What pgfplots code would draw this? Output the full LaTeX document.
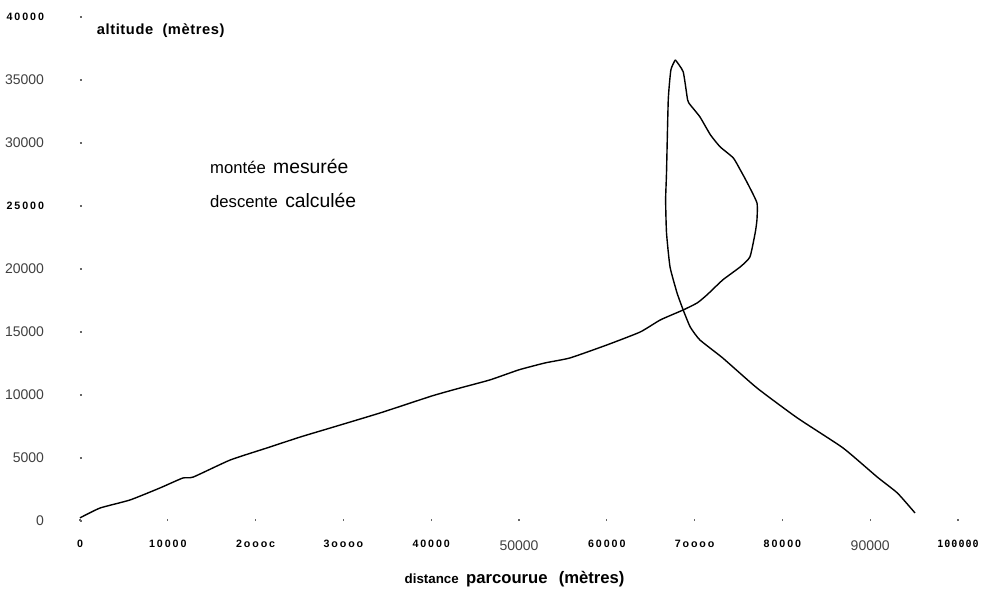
\documentclass[border=0pt]{standalone}
\usepackage{fontspec}
\setmainfont{Liberation Sans}
\newfontfamily\monob{DejaVu Sans Mono}
\usepackage{pgfplots}
\pgfplotsset{compat=1.18}
\newcommand\spb[1]{{\fontsize{8}{9}\selectfont\bfseries\addfontfeature{LetterSpace=18}#1}}
\newcommand\nrm[1]{{\fontsize{10.5}{12}\selectfont\color{black!75}#1}}
\begin{document}
\begin{tikzpicture}
\begin{axis}[
  at={(0,0)}, anchor=origin,
  scale only axis, width=658.5pt, height=378pt,
  xmin=0, xmax=100000, ymin=0, ymax=40000,
  scaled ticks=false,
  axis line style={draw=none},
  xtick pos=left, ytick pos=left,
  xtick={0,10000,20000,30000,40000,50000,60000,70000,80000,90000,100000},
  ytick={0,5000,10000,15000,20000,25000,30000,35000,40000},
  major tick length=1.2pt,
  tick style={black!60, line width=0.8pt},
  xticklabels={\spb{0},\spb{10000},\spb{2oooc},\spb{3oooo},\spb{40000},\nrm{50000},\spb{60000},\spb{7oooo},\spb{80000},\nrm{90000},{\monob\bfseries\fontsize{7.5}{9}\selectfont\addfontfeature{LetterSpace=10}100000}},
  yticklabels={\nrm{0},\nrm{5000},\nrm{10000},\nrm{15000},\nrm{20000},\spb{25000},\nrm{30000},\nrm{35000},\spb{40000}},
  xticklabel style={anchor=north, yshift=-11pt},
  yticklabel style={anchor=east, xshift=-23.5pt},
  clip=false,
]
\addplot[black, line width=1.05pt, smooth, tension=0.3] coordinates {
(0,250) (2280,1030) (5700,1670) (9100,2620) (11700,3410) (12900,3490)
(17100,4840) (21300,5800) (25100,6670) (28500,7380) (34200,8580)
(40100,9930) (43300,10560) (46700,11200) (50000,12000) (53000,12550)
(55800,12940) (60000,13970) (63800,15000) (66100,15960) (68700,16750)
(70300,17310) (71400,17940) (73200,19130) (75200,20170) (76300,20960)
(76900,22870) (77100,23900) (77100,25250) (76000,26840) (75200,27870)
(74400,28820) (72900,29700) (71800,30650) (70600,32080) (69500,33030)
(69200,33430) (68700,35650) (67800,36600)
};
\addplot[black, line width=1.05pt, smooth, tension=0.3] coordinates {
(67800,36600) (67300,35810) (67000,33430) (66800,27630) (66700,25490)
(66800,22870) (67200,20170) (68000,18100) (68700,16750) (69500,15400)
(70600,14370) (73200,12940) (77100,10560) (81700,8180) (86900,5800)
(90800,3490) (93100,2220) (95100,640)
};
\node[anchor=west, inner sep=0pt, font=\bfseries\fontsize{11}{12}\selectfont\addfontfeature{LetterSpace=4}] at (axis cs:1900,38900) {altitude \ (mètres)};
\node[anchor=west, inner sep=0pt, font=\fontsize{12.5}{14}\selectfont] at (axis cs:14800,28100) {montée \,{\fontsize{14.5}{16}\selectfont mesurée}};
\node[anchor=west, inner sep=0pt, font=\fontsize{12.5}{14}\selectfont] at (axis cs:14800,25400) {descente \,{\fontsize{14.5}{16}\selectfont calculée}};
\node[anchor=center, font=\fontsize{10}{12}\selectfont\bfseries] at (axis cs:49500,-4580) {distance \ {\fontsize{12.5}{14}\selectfont parcourue} \ \ {\fontsize{12.5}{14}\selectfont (mètres)}};
\end{axis}
\pgfresetboundingbox
\path[use as bounding box] (-60pt,-51.75pt) rectangle (680.25pt,390.75pt);
\end{tikzpicture}
\end{document}
